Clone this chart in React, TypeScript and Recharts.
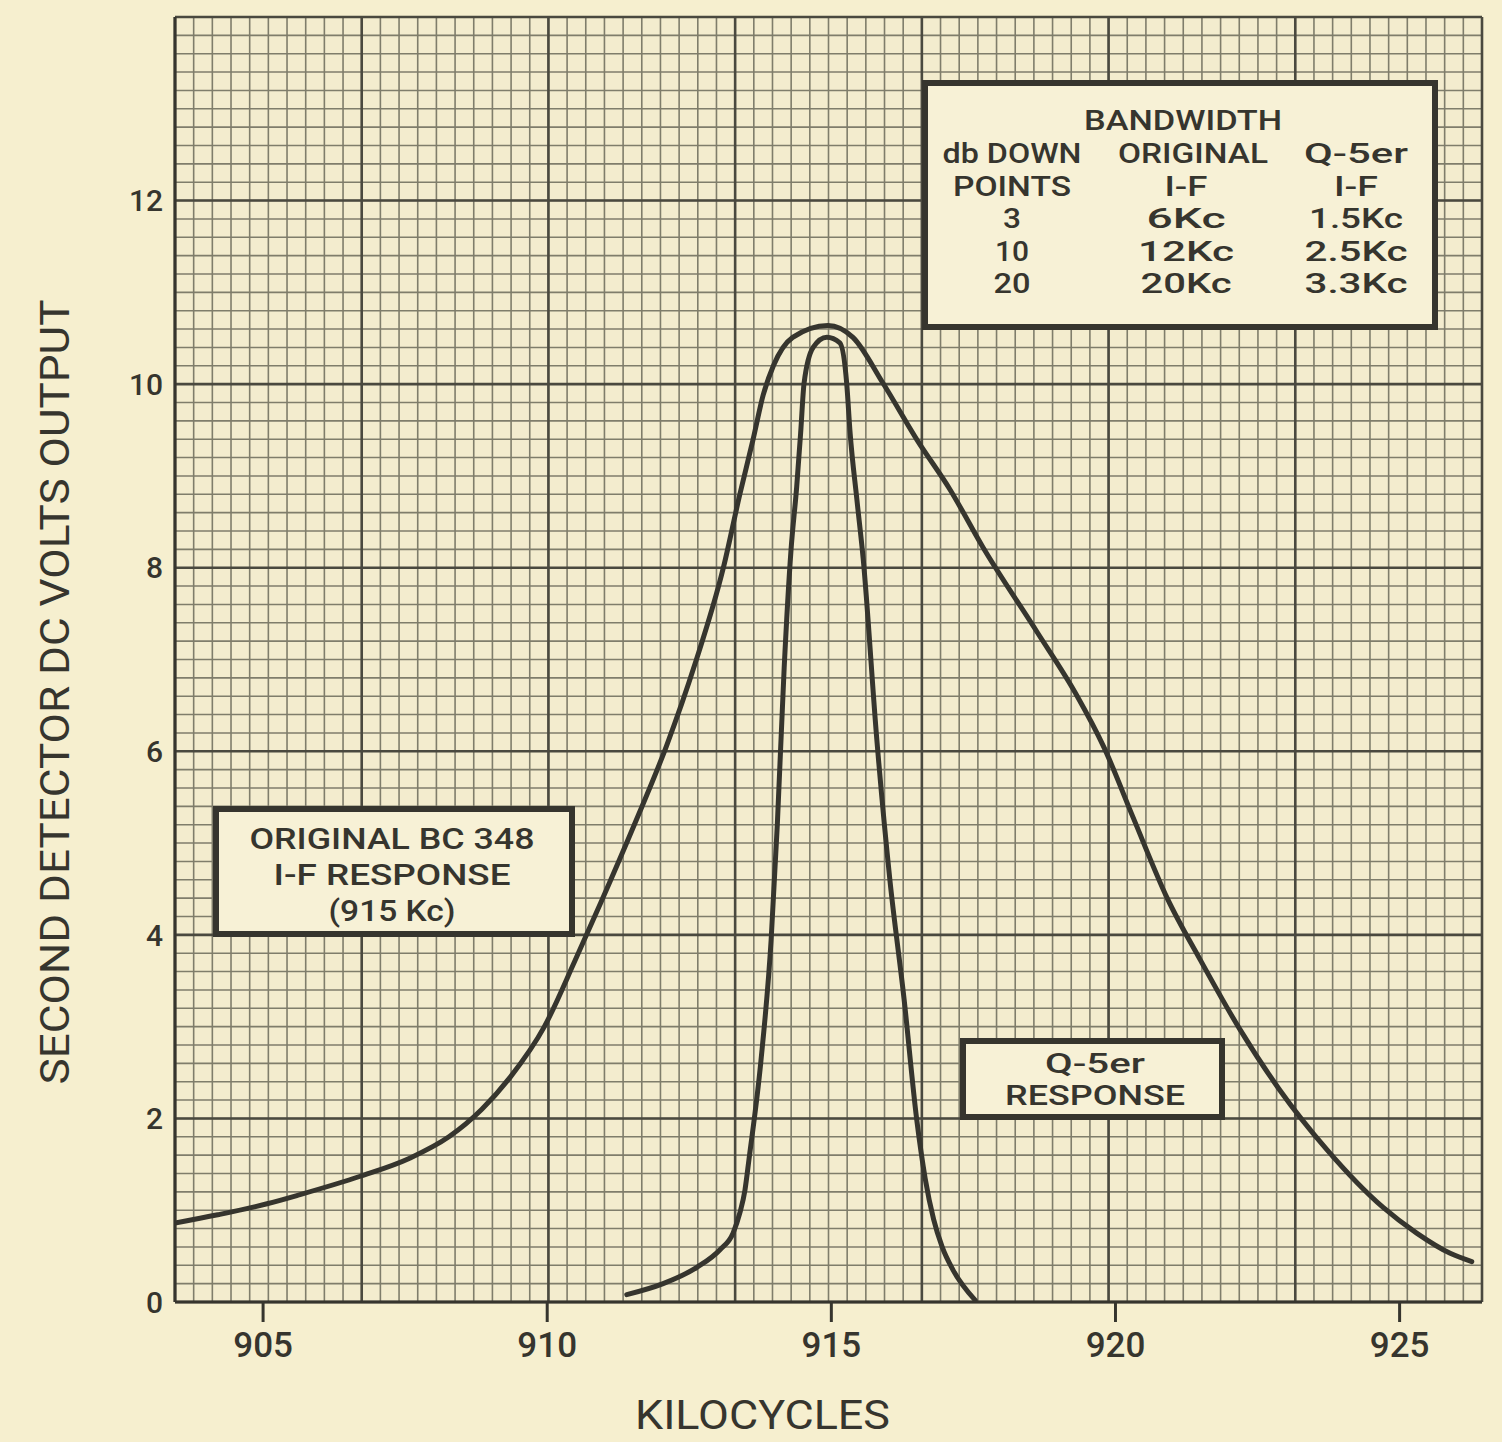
import React from 'react';
import {
  LineChart,
  Line,
  XAxis,
  YAxis,
  CartesianGrid,
  Label,
  Customized,
} from 'recharts';

// axis ranges
const kcRange: [number, number] = [903.45, 926.45];
const voltRange: [number, number] = [0, 14];
const kcTicks = [905, 910, 915, 920, 925];
const voltTicks = [0, 2, 4, 6, 8, 10, 12];

// original BC 348 i-f response
const originalKc = [
  903.45, 904.2, 905.07, 905.65, 906.71, 907.59, 908.27, 908.85, 909.35, 909.95,
  910.49, 910.95, 911.54, 912.1, 912.6, 913.1, 913.39, 913.62, 913.8, 913.98,
  914.32, 914.94, 915.38, 915.91, 916.51, 917.09, 917.67, 918.62, 919.3, 919.8,
  920.31, 920.91, 921.49, 922.19, 922.89, 923.72, 924.71, 925.3, 925.89, 926.27,
];
const originalVolts = [
  0.86, 0.95, 1.07, 1.17, 1.37, 1.57, 1.8, 2.1, 2.45, 3.0,
  3.72, 4.36, 5.21, 6.06, 6.95, 8.0, 8.8, 9.39, 9.88, 10.2,
  10.51, 10.64, 10.51, 10.01, 9.39, 8.85, 8.22, 7.3, 6.63, 6.04,
  5.28, 4.4, 3.73, 2.97, 2.31, 1.66, 1.03, 0.75, 0.53, 0.44,
];

// Q-5er response
const q5erKc = [
  911.4, 912.04, 912.64, 913.04, 913.27, 913.39, 913.48, 913.55, 913.76, 913.94,
  914.05, 914.17, 914.29, 914.39, 914.46, 914.52, 914.68, 914.92, 915.15, 915.27,
  915.33, 915.45, 915.56, 915.8, 916.03, 916.28, 916.5, 916.65, 916.8, 916.95,
  917.14, 917.53,
];
const q5erVolts = [
  0.08, 0.2, 0.38, 0.57, 0.75, 0.97, 1.22, 1.55, 2.62, 3.94,
  5.21, 6.91, 8.19, 8.88, 9.47, 10.01, 10.4, 10.51, 10.45, 10.01,
  9.47, 8.74, 8.1, 6.13, 4.6, 3.3, 2.0, 1.35, 0.9, 0.6,
  0.35, 0.02,
];

// bandwidth table
const tableTitle = 'BANDWIDTH';
const tableLines = [
  ['db DOWN', 'ORIGINAL', 'Q-5er'],
  ['POINTS', 'I-F', 'I-F'],
  ['3', '6Kc', '1.5Kc'],
  ['10', '12Kc', '2.5Kc'],
  ['20', '20Kc', '3.3Kc'],
];
const originalNote = ['ORIGINAL BC 348', 'I-F RESPONSE', '(915 Kc)'];
const q5erNote = ['Q-5er', 'RESPONSE'];

const originalData = originalKc.map((kc, i) => ({ kc, volts: originalVolts[i] }));
const q5erData = q5erKc.map((kc, i) => ({ kc, volts: q5erVolts[i] }));

const PAPER = '#f6efcf';
const BOX = '#f7f1d6';
const INK = '#36352e';
const FONT = 'Roboto, "Noto Sans", sans-serif';

// graph paper: 70 x 70 small squares across the plot, heavy every 10
const paperLines = (start: number, size: number, every: number) =>
  Array.from({ length: 71 }, (_, i) => i)
    .filter((i) => i % every === 0)
    .map((i) => start + (i * size) / 70);

const vLines = (every: number) => (p: any) => paperLines(p.offset.left, p.offset.width, every);
const hLines = (every: number) => (p: any) => paperLines(p.offset.top, p.offset.height, every);

// printed widths of the table cells (condensed face in the original)
const cellWidths = [
  [139, 150, 104],
  [118, 43, 44],
  [18, 79, 94],
  [34, 96, 103],
  [37, 91, 103],
];

const Notes = () => {
  const cols = [1012, 1186, 1356];
  const fit = { lengthAdjust: 'spacingAndGlyphs' as const };
  return (
    <g fontFamily={FONT} fill={INK} fontWeight={500}>
      <rect x={925} y={83} width={510} height={244} fill={BOX} stroke={INK} strokeWidth={6} />
      <text x={1183} y={121} fontSize={27} textAnchor="middle" dominantBaseline="central" textLength={198} {...fit}>
        {tableTitle}
      </text>
      {tableLines.map((row, r) =>
        row.map((cell, c) => (
          <text
            key={`${r}-${c}`}
            x={r === 0 && c === 1 ? 1193 : cols[c]}
            y={154 + r * 32.5}
            fontSize={27}
            textAnchor="middle"
            dominantBaseline="central"
            textLength={cellWidths[r][c]}
            {...fit}
          >
            {cell}
          </text>
        ))
      )}

      <rect x={216} y={809} width={356} height={125} fill={BOX} stroke={INK} strokeWidth={6} />
      {originalNote.map((t, i) => (
        <text
          key={t}
          x={392}
          y={838 + i * 36}
          fontSize={30}
          textAnchor="middle"
          dominantBaseline="central"
          textLength={[285, 237, 127][i]}
          {...fit}
        >
          {t}
        </text>
      ))}

      <rect x={963} y={1041} width={259} height={76} fill={BOX} stroke={INK} strokeWidth={6} />
      {q5erNote.map((t, i) => (
        <text
          key={t}
          x={1095}
          y={1064 + i * 32}
          fontSize={27}
          textAnchor="middle"
          dominantBaseline="central"
          textLength={[100, 180][i]}
          {...fit}
        >
          {t}
        </text>
      ))}
    </g>
  );
};

const XTitle = (props: any) => {
  const { x, y, width } = props.viewBox;
  return (
    <text
      x={x + width / 2 - 66}
      y={y + 127}
      textAnchor="middle"
      fontFamily={FONT}
      fontSize={40}
      fill={INK}
      textLength={255}
      lengthAdjust="spacingAndGlyphs"
    >
      KILOCYCLES
    </text>
  );
};

const YTitle = () => (
  <text
    x={55}
    y={692}
    transform="rotate(-90 55 692)"
    textAnchor="middle"
    dominantBaseline="central"
    fontFamily={FONT}
    fontSize={41}
    fill={INK}
    textLength={785}
    lengthAdjust="spacingAndGlyphs"
  >
    SECOND DETECTOR DC VOLTS OUTPUT
  </text>
);

export default function App() {
  return (
    <div style={{ position: 'absolute', left: 0, top: 0, width: 1502, height: 1442, background: PAPER }}>
      <LineChart
        width={1502}
        height={1442}
        margin={{ top: 17, right: 20, bottom: 80, left: 115 }}
      >
        <CartesianGrid
          verticalCoordinatesGenerator={vLines(1)}
          horizontalCoordinatesGenerator={hLines(1)}
          stroke="#7f7d6b"
          strokeWidth={1.6}
          fill="#f3ecce"
        />
        <CartesianGrid
          verticalCoordinatesGenerator={vLines(10)}
          horizontalCoordinatesGenerator={hLines(10)}
          stroke="#4a493f"
          strokeWidth={2.6}
        />
        <XAxis
          type="number"
          dataKey="kc"
          domain={kcRange}
          ticks={kcTicks}
          allowDataOverflow
          height={60}
          tickSize={20}
          tickMargin={10}
          tickLine={{ stroke: INK, strokeWidth: 3 }}
          axisLine={{ stroke: INK, strokeWidth: 3 }}
          tick={{ fill: INK, fontSize: 35, fontFamily: FONT, fontWeight: 500 }}
        >
          <Label content={XTitle} />
        </XAxis>
        <YAxis
          type="number"
          dataKey="volts"
          domain={voltRange}
          ticks={voltTicks}
          allowDataOverflow
          width={60}
          tickSize={0}
          tickMargin={12}
          tickLine={false}
          axisLine={{ stroke: INK, strokeWidth: 3 }}
          tick={{ fill: INK, fontSize: 30, fontFamily: FONT, fontWeight: 500 }}
        >
          <Label content={YTitle} />
        </YAxis>
        <Line
          data={originalData}
          dataKey="volts"
          type="monotone"
          stroke={INK}
          strokeWidth={5}
          strokeLinecap="round"
          dot={false}
          isAnimationActive={false}
        />
        <Line
          data={q5erData}
          dataKey="volts"
          type="monotone"
          stroke={INK}
          strokeWidth={5}
          strokeLinecap="round"
          dot={false}
          isAnimationActive={false}
        />
        <Customized component={<Notes />} />
      </LineChart>
    </div>
  );
}
